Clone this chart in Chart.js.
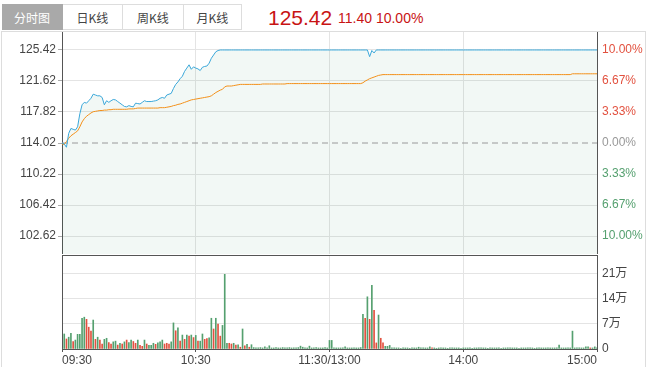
<!DOCTYPE html>
<html>
<head>
<meta charset="utf-8">
<script src="https://cdn.jsdelivr.net/npm/chart.js@4.4.1/dist/chart.umd.min.js"></script>
<style>
  body { margin: 0; width: 653px; height: 367px; overflow: hidden; position: relative; background: #fff;
         font-family: "Liberation Sans", "Noto Sans CJK SC", sans-serif; }
  .tab { position: absolute; top: 4px; height: 26px; line-height: 25px; box-sizing: border-box;
         border: 1px solid #ddd; border-left: none; text-align: center; font-size: 12px; color: #444;
         font-family: "Noto Sans CJK SC", sans-serif; }
  .tab.on { background: #a9a9a9; color: #fff; border-color: #a9a9a9; }
  #last { position: absolute; left: 268px; top: 7px; font-size: 21px; line-height: 21px; color: #c81414; }
  #chg { position: absolute; left: 338px; top: 11px; font-size: 14px; line-height: 14px; color: #c81414; }
  #frame { position: absolute; left: 1px; top: 31px; width: 643px; height: 400px; border: 1px solid #ddd; border-bottom: none; }
  #priceChart { position: absolute; left: 0; top: 32px; }
  #volChart { position: absolute; left: 0; top: 254px; }
</style>
</head>
<body>
<div class="tab on" style="left:2px;width:61px">分时图</div>
<div class="tab" style="left:63px;width:60px">日K线</div>
<div class="tab" style="left:123px;width:61px">周K线</div>
<div class="tab" style="left:184px;width:58px">月K线</div>
<div id="last">125.42</div>
<div id="chg">11.40 10.00%</div>
<div id="frame"></div>
<canvas id="priceChart" width="653" height="222"></canvas>
<canvas id="volChart" width="653" height="113"></canvas>
<script>
// previous close and the price axis range
const prevClose = 114.02;
const priceMin = 100.42;
const priceMax = 127.62;
const volMax = 26.3; // 万

// x axis: minute index from 09:30 (11:30 and 13:00 share one slot)
const timeTicks = [0, 60, 120, 180, 240];
const timeLabels = ["09:30", "10:30", "11:30/13:00", "14:00", "15:00"];

const priceTicks = [102.62, 106.42, 110.22, 114.02, 117.82, 121.62, 125.42];
const pctLabels = ["10.00%", "6.67%", "3.33%", "0.00%", "3.33%", "6.67%", "10.00%"];
const volTicks = [0, 7, 14, 21];
const volLabels = ["0", "7万", "14万", "21万"];

// last price per minute
const price = [
  114.02, 113.9, 113.5, 115.2, 115.8, 115.7, 115.6, 116.0, 117.6, 118.7,
  119.0, 118.9, 119.2, 119.5, 120.0, 119.9, 119.8, 119.8, 119.6, 118.7,
  119.2, 119.0, 119.2, 119.35, 119.3, 119.1, 118.9, 118.7, 118.5, 118.45,
  118.6, 118.5, 118.45, 118.9, 118.85, 118.8, 119.0, 119.2, 119.1, 119.1,
  119.1, 119.15, 119.2, 119.3, 119.5, 119.6, 119.5, 119.9, 120.0, 120.1,
  120.7, 121.2, 121.5, 121.9, 122.2, 122.8, 123.2, 123.6, 123.05, 123.35,
  123.2, 123.1, 122.9, 123.3, 123.4, 123.45, 123.8, 124.4, 124.8, 125.2,
  125.35, 125.42, 125.42, 125.42, 125.42, 125.42, 125.42, 125.42, 125.42, 125.42,
  125.42, 125.42, 125.42, 125.42, 125.42, 125.42, 125.42, 125.42, 125.42, 125.42,
  125.42, 125.42, 125.42, 125.42, 125.42, 125.42, 125.42, 125.42, 125.42, 125.42,
  125.42, 125.42, 125.42, 125.42, 125.42, 125.42, 125.42, 125.42, 125.42, 125.42,
  125.42, 125.42, 125.42, 125.42, 125.42, 125.42, 125.42, 125.42, 125.42, 125.42,
  125.42, 125.42, 125.42, 125.42, 125.42, 125.42, 125.42, 125.42, 125.42, 125.42,
  125.42, 125.42, 125.42, 125.42, 125.42, 125.42, 125.42, 125.42, 124.6, 125.35,
  125.05, 125.42, 125.42, 125.42, 125.42, 125.42, 125.42, 125.42, 125.42, 125.42,
  125.42, 125.42, 125.42, 125.42, 125.42, 125.42, 125.42, 125.42, 125.42, 125.42,
  125.42, 125.42, 125.42, 125.42, 125.42, 125.42, 125.42, 125.42, 125.42, 125.42,
  125.42, 125.42, 125.42, 125.42, 125.42, 125.42, 125.42, 125.42, 125.42, 125.42,
  125.42, 125.42, 125.42, 125.42, 125.42, 125.42, 125.42, 125.42, 125.42, 125.42,
  125.42, 125.42, 125.42, 125.42, 125.42, 125.42, 125.42, 125.42, 125.42, 125.42,
  125.42, 125.42, 125.42, 125.42, 125.42, 125.42, 125.42, 125.42, 125.42, 125.42,
  125.42, 125.42, 125.42, 125.42, 125.42, 125.42, 125.42, 125.42, 125.42, 125.42,
  125.42, 125.42, 125.42, 125.42, 125.42, 125.42, 125.42, 125.42, 125.42, 125.42,
  125.42, 125.42, 125.42, 125.42, 125.42, 125.42, 125.42, 125.42, 125.42, 125.42,
  125.42
];

// average price per minute
const avgPrice = [
  113.9, 113.85, 114.2, 114.6, 114.9, 115.1, 115.3, 115.5, 116.0, 116.6,
  117.0, 117.3, 117.5, 117.7, 117.85, 117.9, 117.95, 118.0, 118.0, 118.05,
  118.05, 118.1, 118.1, 118.15, 118.15, 118.15, 118.15, 118.15, 118.15, 118.15,
  118.2, 118.2, 118.2, 118.25, 118.3, 118.3, 118.3, 118.3, 118.3, 118.3,
  118.3, 118.3, 118.3, 118.3, 118.35, 118.35, 118.35, 118.4, 118.45, 118.5,
  118.6, 118.65, 118.75, 118.8, 118.9, 119.0, 119.1, 119.2, 119.3, 119.35,
  119.4, 119.45, 119.5, 119.55, 119.6, 119.65, 119.7, 119.8, 120.0, 120.2,
  120.35, 120.5, 120.6, 120.9, 121.0, 121.0, 121.0, 121.05, 121.1, 121.15,
  121.2, 121.2, 121.2, 121.2, 121.2, 121.2, 121.2, 121.2, 121.2, 121.2,
  121.25, 121.25, 121.25, 121.25, 121.25, 121.25, 121.25, 121.25, 121.25, 121.25,
  121.25, 121.3, 121.3, 121.3, 121.3, 121.3, 121.3, 121.3, 121.3, 121.3,
  121.3, 121.3, 121.3, 121.3, 121.3, 121.3, 121.3, 121.3, 121.3, 121.3,
  121.3, 121.3, 121.3, 121.3, 121.3, 121.3, 121.3, 121.3, 121.3, 121.3,
  121.3, 121.3, 121.3, 121.3, 121.3, 121.4, 121.6, 121.75, 121.9, 122.0,
  122.1, 122.2, 122.3, 122.35, 122.4, 122.4, 122.4, 122.4, 122.4, 122.4,
  122.4, 122.4, 122.4, 122.4, 122.4, 122.4, 122.4, 122.4, 122.4, 122.4,
  122.4, 122.4, 122.4, 122.4, 122.4, 122.4, 122.4, 122.4, 122.4, 122.4,
  122.4, 122.4, 122.4, 122.4, 122.4, 122.4, 122.4, 122.4, 122.4, 122.4,
  122.4, 122.4, 122.4, 122.4, 122.4, 122.4, 122.4, 122.4, 122.4, 122.4,
  122.4, 122.4, 122.4, 122.4, 122.4, 122.4, 122.4, 122.4, 122.4, 122.4,
  122.4, 122.4, 122.4, 122.4, 122.4, 122.4, 122.4, 122.4, 122.4, 122.4,
  122.4, 122.4, 122.4, 122.4, 122.4, 122.4, 122.4, 122.4, 122.4, 122.4,
  122.4, 122.4, 122.4, 122.4, 122.4, 122.4, 122.4, 122.4, 122.4, 122.5,
  122.5, 122.5, 122.5, 122.5, 122.5, 122.5, 122.5, 122.5, 122.5, 122.5,
  122.5
];

// volume per minute, in 万 shares
const volume = [
  0, 4.2, 2.8, 3.3, 4.4, 2.1, 2.5, 4.1, 4.1, 8.6,
  8.9, 8.3, 6.1, 5.0, 8.1, 2.7, 3.3, 2.5, 1.4, 2.7,
  3.0, 1.8, 1.4, 2.0, 2.2, 1.1, 1.6, 1.4, 2.0, 2.5,
  1.8, 2.5, 2.1, 1.6, 2.5, 1.0, 0.75, 2.5, 1.4, 1.0,
  1.0, 1.6, 1.3, 1.7, 2.0, 2.5, 1.4, 1.6, 1.4, 2.0,
  7.3, 5.1, 5.9, 2.2, 3.9, 2.7, 3.9, 3.6, 3.9, 3.2,
  3.8, 2.2, 2.2, 4.2, 2.7, 2.9, 3.1, 8.6, 5.6, 8.6,
  7.0, 3.6, 6.6, 20.9, 1.6, 1.6, 1.4, 1.6, 1.1, 1.2,
  0.5, 5.6, 0.9, 1.3, 0.5, 1.2, 0.4, 0.3, 0.3, 0.4,
  0.3, 0.6, 0.3, 0.9, 0.3, 0.3, 0.4, 0.3, 0.3, 0.4,
  0.3, 0.3, 0.4, 0.3, 0.3, 0.3, 0.4, 0.8, 0.5, 0.3,
  0.3, 0.8, 0.3, 0.3, 0.4, 0.3, 0.3, 0.3, 0.4, 0.3,
  2.4, 2.4, 0.3, 0.3, 0.3, 0.3, 0.3, 0.6, 0.3, 0.3,
  0.3, 0.3, 0.3, 0.3, 0.4, 9.7, 8.6, 14.6, 8.3, 17.8,
  10.8, 1.7, 9.5, 3.0, 1.7, 0.75, 0.75, 1.0, 0.3, 0.3,
  0.3, 0.3, 0.2, 0.3, 0.3, 0.3, 0.2, 0.3, 0.3, 0.3,
  0.5, 0.3, 0.3, 0.3, 0.3, 0.6, 0.3, 0.3, 0.2, 0.3,
  0.3, 0.3, 0.3, 0.2, 0.3, 0.3, 0.3, 0.3, 0.3, 0.2,
  0.3, 0.3, 0.3, 0.3, 0.2, 0.3, 0.3, 0.3, 0.3, 0.3,
  0.3, 0.2, 0.3, 0.3, 0.3, 0.3, 0.3, 0.2, 0.3, 0.3,
  0.3, 0.3, 0.3, 0.3, 0.3, 0.2, 0.3, 0.3, 0.3, 0.3,
  0.3, 0.3, 0.2, 0.3, 0.3, 0.3, 0.3, 0.3, 0.3, 0.3,
  0.3, 0.3, 0.3, 1.1, 0.3, 0.3, 0.3, 0.3, 0.3, 5.0,
  0.3, 0.3, 0.3, 0.3, 0.3, 0.6, 0.6, 0.3, 0.3, 0.6,
  0.3
];

// minutes whose volume bar is an up tick (red); the rest are down ticks (green)
const upMinutes = [2, 5, 11, 12, 13, 15, 17, 18, 21, 22, 25, 27, 29, 32, 33, 35, 36, 38, 42, 46, 47, 48,
  51, 53, 55, 57, 59, 61, 64, 65, 68, 70, 71, 75, 76, 78, 80, 82, 84, 136, 138, 140, 141, 143, 144, 166, 237];

const lastIdx = price.length - 1;
const pts = arr => arr.map((v, i) => ({ x: i, y: v }));

const gridColor = "#e4e4e4";
const axisColor = "#555";
const upColor = "#e2513f";
const downColor = "#55a06f";

Chart.defaults.font.family = "'Liberation Sans', 'Noto Sans CJK SC', sans-serif";
Chart.defaults.font.size = 12;
Chart.defaults.animation = false;

function fixTicks(list) {
    return scale => { scale.ticks = list.map(v => ({ value: v })); };
}

// price / average chart
new Chart(document.getElementById("priceChart"), {
    type: "line",
    data: {
        datasets: [
            { data: pts(price), borderColor: "#3aa7d9", borderWidth: 1, pointRadius: 0,
              fill: "start", backgroundColor: "rgba(20,130,70,0.055)", xAxisID: "x", yAxisID: "y" },
            { data: pts(avgPrice), borderColor: "#f39019", borderWidth: 1, pointRadius: 0,
              fill: false, xAxisID: "x", yAxisID: "y" },
            { data: [{ x: 0, y: prevClose }, { x: lastIdx, y: prevClose }], borderColor: "#9a9a9a",
              borderWidth: 1, borderDash: [6, 4], pointRadius: 0, fill: false, xAxisID: "x", yAxisID: "y" }
        ]
    },
    options: {
        responsive: false,
        events: [],
        layout: { padding: 0 },
        plugins: { legend: { display: false }, tooltip: { enabled: false }, filler: { drawTime: "beforeDatasetsDraw" } },
        scales: {
            x: {
                type: "linear", min: 0, max: lastIdx, offset: false,
                afterBuildTicks: fixTicks(timeTicks),
                ticks: { display: false },
                grid: { color: gridColor, drawTicks: false, offset: false },
                border: { display: false },
                afterFit: s => { s.height = 0; s.paddingLeft = 0; s.paddingRight = 0; }
            },
            y: {
                position: "left", min: priceMin, max: priceMax,
                afterBuildTicks: fixTicks(priceTicks),
                ticks: { color: "#444", padding: 2, callback: v => v.toFixed(2) },
                grid: { color: c => (c.tick && c.tick.value === prevClose) ? "rgba(0,0,0,0)" : gridColor,
                        tickColor: "#aaa", tickLength: 4 },
                border: { color: axisColor },
                afterFit: s => { s.width = 62; s.paddingTop = 0; s.paddingBottom = 0; }
            },
            yr: {
                position: "right", min: priceMin, max: priceMax,
                afterBuildTicks: fixTicks(priceTicks),
                ticks: {
                    padding: 5,
                    callback: (v, i) => pctLabels[i],
                    color: c => c.tick.value > prevClose ? upColor : (c.tick.value < prevClose ? downColor : "#999")
                },
                grid: { drawOnChartArea: false, drawTicks: false },
                border: { color: axisColor },
                afterFit: s => { s.width = 56; s.paddingTop = 0; s.paddingBottom = 0; }
            }
        }
    }
});

// volume chart
new Chart(document.getElementById("volChart"), {
    type: "bar",
    data: {
        datasets: [{
            data: pts(volume),
            backgroundColor: volume.map((v, i) => upMinutes.includes(i) ? upColor : downColor),
            barThickness: 1,
            xAxisID: "x", yAxisID: "y"
        }]
    },
    options: {
        responsive: false,
        events: [],
        layout: { padding: { top: 1 } },
        plugins: { legend: { display: false }, tooltip: { enabled: false } },
        scales: {
            x: {
                type: "linear", position: "bottom", min: 0, max: lastIdx, offset: false,
                afterBuildTicks: fixTicks(timeTicks),
                ticks: { color: "#444", padding: 1, align: "inner", maxRotation: 0, autoSkip: false,
                         callback: (v, i) => timeLabels[i] },
                grid: { color: gridColor, tickColor: axisColor, tickLength: 3, offset: false },
                border: { color: axisColor },
                afterFit: s => { s.height = 18; s.paddingLeft = 0; s.paddingRight = 0; }
            },
            xt: {
                type: "linear", position: "top", min: 0, max: lastIdx, offset: false,
                ticks: { display: false },
                grid: { display: false, drawTicks: false, offset: false },
                border: { color: axisColor },
                afterFit: s => { s.height = 0; s.paddingLeft = 0; s.paddingRight = 0; }
            },
            y: {
                position: "left", min: 0, max: volMax,
                afterBuildTicks: fixTicks(volTicks),
                ticks: { display: false },
                grid: { color: gridColor, drawTicks: false },
                border: { color: axisColor },
                afterFit: s => { s.width = 62; s.paddingTop = 0; s.paddingBottom = 0; }
            },
            yr: {
                position: "right", min: 0, max: volMax,
                afterBuildTicks: fixTicks(volTicks),
                ticks: { color: "#444", padding: 5, callback: (v, i) => volLabels[i] },
                grid: { drawOnChartArea: false, drawTicks: false },
                border: { color: axisColor },
                afterFit: s => { s.width = 56; s.paddingTop = 0; s.paddingBottom = 0; }
            }
        }
    }
});
</script>
</body>
</html>
